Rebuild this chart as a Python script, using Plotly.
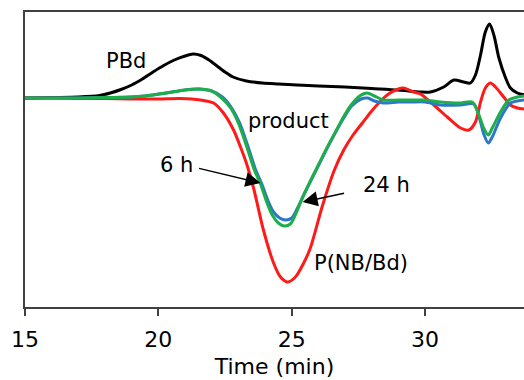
import plotly.graph_objects as go

# Time (min) and detector response (arbitrary units, baseline = 0)
pbd_t = [15.0, 16.0, 17.0, 17.8, 18.2, 18.6, 19.0, 19.4, 19.8, 20.2, 20.6, 21.0, 21.3, 21.6, 21.9,
         22.2, 22.5, 22.8, 23.3, 23.9, 24.5, 25.2, 26.0, 27.0, 28.0, 29.0, 29.83, 30.2, 30.7, 31.08, 31.45,
         31.7, 31.89, 32.08, 32.26, 32.42, 32.58, 32.77, 33.02, 33.2, 33.46, 33.73]
pbd_v = [0, 0.5, 1, 2.5, 5, 8.5, 13, 19, 26, 32.5, 38, 42, 44, 42.5, 38,
         32, 26, 21, 17, 15, 14, 13, 12, 11, 9.5, 8, 6, 6, 11, 18, 16,
         15, 23, 43, 66, 74, 63, 40, 20, 10, 5, 3]

pnb_t = [15.0, 16.0, 17.0, 18.0, 19.0, 20.0, 20.83, 21.58, 22.07, 22.44, 22.82, 23.08, 23.3, 23.57,
         23.94, 24.32, 24.58, 24.85, 25.14, 25.45, 25.7, 26.15, 26.6, 26.95, 27.3, 27.65, 28.0, 28.3,
         28.63, 29.0, 29.19, 29.57, 29.83, 30.33, 30.83, 31.33, 31.64, 31.89, 32.08, 32.26, 32.45,
         32.64, 32.95, 33.2, 33.46, 33.73]
pnb_v = [0, 0, -0.5, -0.5, -1, -1, -0.5, -2, -5, -15, -32, -49, -65, -90,
         -132, -165, -179, -184, -179, -165, -150, -108, -72, -52, -37, -25, -13, -4,
         4, 9, 10, 6, 4, -7, -19, -30, -32, -24, -4, 10, 15,
         11, 1, -7, -10, -11]

h6_t = [15.0, 16.0, 17.0, 18.0, 19.0, 19.5, 20.3, 21.0, 21.5, 22.0, 22.4, 22.75, 23.05, 23.38, 23.65,
        23.88, 24.1, 24.32, 24.55, 24.77, 25.0, 25.2, 25.45, 25.75, 26.05, 26.35, 26.65, 26.95, 27.25,
        27.6, 27.85, 28.1, 28.45, 29.0, 29.5, 30.0, 30.58, 31.33, 31.83, 32.08, 32.2, 32.37, 32.52,
        32.83, 33.2, 33.46, 33.73]
h6_v = [0, 0, 0, 0.5, 1, 2, 5, 8, 9, 7, 1, -10, -25, -50, -72,
        -86, -102, -114, -120, -122, -120, -111, -97, -81, -65, -49, -34, -20, -8,
        -1, 0, -3, -5, -4, -4, -4, -7, -7, -6, -24, -36, -45, -39,
        -20, -5, -3, -2]

h24_t = [15.0, 16.0, 17.0, 18.0, 19.0, 19.5, 20.3, 21.0, 21.5, 22.0, 22.33, 22.71, 23.0, 23.33, 23.6,
         23.83, 24.05, 24.27, 24.5, 24.72, 24.95, 25.15, 25.4, 25.7, 26.0, 26.3, 26.6, 26.9, 27.2,
         27.55, 27.83, 28.1, 28.45, 29.0, 29.5, 30.0, 30.58, 31.33, 31.77, 32.02, 32.2, 32.37, 32.52,
         32.83, 33.14, 33.46, 33.73]
h24_v = [0, 0, 0, 0.5, 1, 2, 5, 8, 9, 7, 1, -10, -25, -50, -72,
         -86, -103, -117, -125, -128, -126, -116, -100, -83, -67, -51, -36, -21, -8,
         2, 5, 2, -2, -2, -2, -2, -4, -5, -4, -17, -30, -37, -30,
         -14, -2, 1, 2]

x_ticks = [15, 20, 25, 30]

fig = go.Figure()
fig.add_trace(go.Scatter(x=pbd_t, y=pbd_v, mode="lines", name="PBd",
                         line=dict(color="#000000", width=3, shape="spline", smoothing=0.8)))
fig.add_trace(go.Scatter(x=pnb_t, y=pnb_v, mode="lines", name="P(NB/Bd)",
                         line=dict(color="#ff1a1a", width=3, shape="spline", smoothing=0.8)))
fig.add_trace(go.Scatter(x=h6_t, y=h6_v, mode="lines", name="6 h",
                         line=dict(color="#2b78c9", width=3, shape="spline", smoothing=0.8)))
fig.add_trace(go.Scatter(x=h24_t, y=h24_v, mode="lines", name="24 h",
                         line=dict(color="#1fad4b", width=3, shape="spline", smoothing=0.8)))

font_family = "DejaVu Sans, Arial, sans-serif"
labels = [("PBd", 18.77, 37), ("product", 24.88, -23), ("6 h", 20.68, -67),
          ("24 h", 28.54, -87), ("P(NB/Bd)", 27.58, -165)]
for txt, lx, ly in labels:
    fig.add_annotation(x=lx, y=ly, text=txt, showarrow=False,
                       font=dict(family=font_family, size=21, color="#000"))

arrows = [(23.83, -85, 21.47, -70), (25.41, -104, 27.02, -95)]
for tx, ty, sx, sy in arrows:
    fig.add_annotation(x=tx, y=ty, ax=sx, ay=sy, axref="x", ayref="y", text="",
                       showarrow=True, arrowhead=2, arrowsize=2, arrowwidth=1.5,
                       arrowcolor="#000")

fig.update_layout(
    width=524, height=380,
    margin=dict(l=25, r=0, t=12, b=73),
    paper_bgcolor="white", plot_bgcolor="white",
    showlegend=False,
    font=dict(family=font_family, size=22, color="#000"),
    xaxis=dict(range=[15, 33.71], tickvals=x_ticks, ticks="outside", ticklen=7, tickwidth=1.5,
               tickcolor="#404040", showline=True, linecolor="#404040", linewidth=1.5,
               mirror=True, showgrid=False, zeroline=False, ticklabelstandoff=5,
               title=dict(text="Time (min)", standoff=7, font=dict(size=22)),
               tickfont=dict(size=22)),
    yaxis=dict(range=[-209, 86], showticklabels=False, ticks="", showline=True,
               linecolor="#404040", linewidth=1.5, mirror=False, showgrid=False, zeroline=False),
)

fig.write_html("out.html")
